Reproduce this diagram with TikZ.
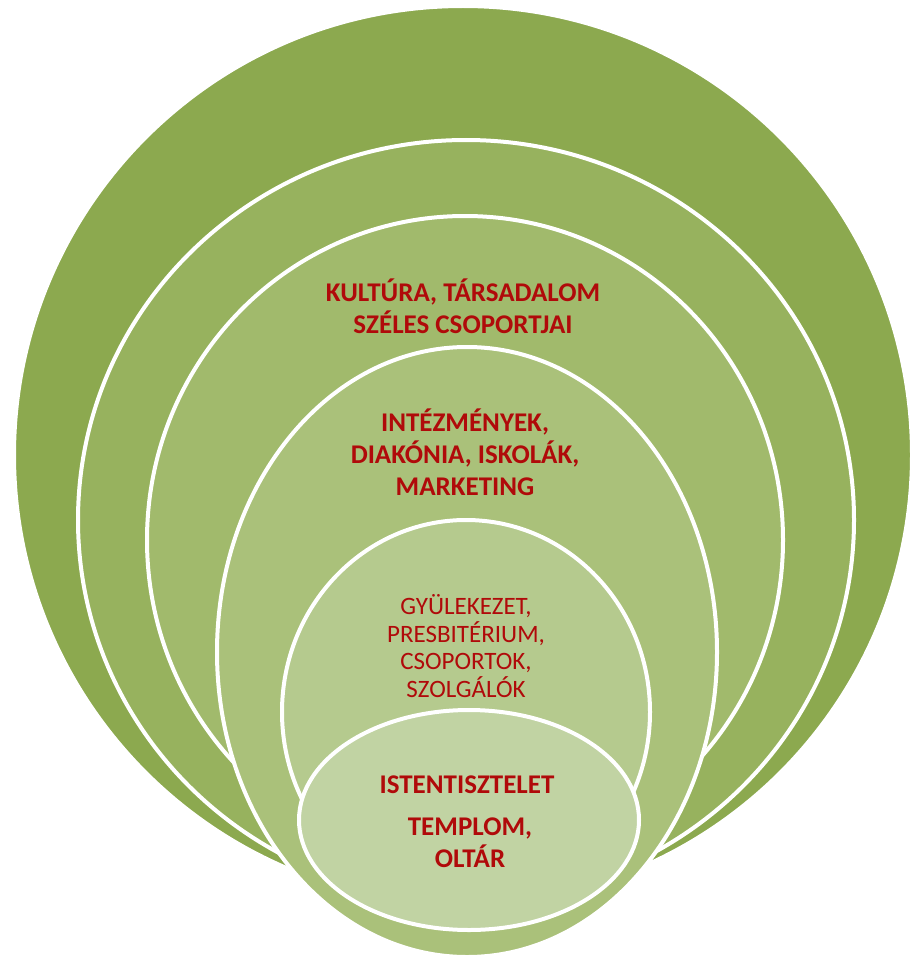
\documentclass[tikz,border=0pt]{standalone}
\usepackage{fontspec}
\setmainfont{Carlito}
\definecolor{gA}{HTML}{8CA94F}
\definecolor{gB}{HTML}{97B25E}
\definecolor{gC}{HTML}{A1BA6C}
\definecolor{gD}{HTML}{AAC17A}
\definecolor{gE}{HTML}{B5CA8E}
\definecolor{gF}{HTML}{C1D3A3}
\definecolor{txtred}{HTML}{B00A0A}
\begin{document}
\begin{tikzpicture}[x=1pt,y=-1pt,
  ring/.style={draw=white, line width=4pt},
  lbl/.style={text=txtred, align=center, inner sep=0pt, font=\bfseries\fontsize{27}{32}\selectfont},
  lblthin/.style={text=txtred, align=center, inner sep=0pt, font=\fontsize{25}{27.7}\selectfont}]
\useasboundingbox (0,0) rectangle (910,960);
\fill[white] (0,0) rectangle (910,960);
% rings, back to front
\path[ring, fill=gA] (463,455) ellipse [x radius=449pt, y radius=449pt];
\path[ring, fill=gB] (466,520) ellipse [x radius=388pt, y radius=380pt];
\path[ring, fill=gC] (465,540) ellipse [x radius=318pt, y radius=324pt];
\path[ring, fill=gD] (467,652) ellipse [x radius=250pt, y radius=305pt];
\path[ring, fill=gE] (466,712) ellipse [x radius=184pt, y radius=192pt];
\path[ring, fill=gF] (469,820) ellipse [x radius=170pt, y radius=110pt];
% labels
\node[lbl] (kultura) at (463,306) {KULTÚRA, TÁRSADALOM\\SZÉLES CSOPORTJAI};
\node[lbl] (intezmenyek) at (465,452) {INTÉZMÉNYEK,\\DIAKÓNIA, ISKOLÁK,\\MARKETING};
\node[lblthin] (gyulekezet) at (466,646) {GYÜLEKEZET,\\PRESBITÉRIUM,\\CSOPORTOK,\\SZOLGÁLÓK};
\node[lbl] (istentisztelet) at (467,785) {ISTENTISZTELET};
\node[lbl] (templom) at (470,843) {TEMPLOM,\\OLTÁR};
\end{tikzpicture}
\end{document}
